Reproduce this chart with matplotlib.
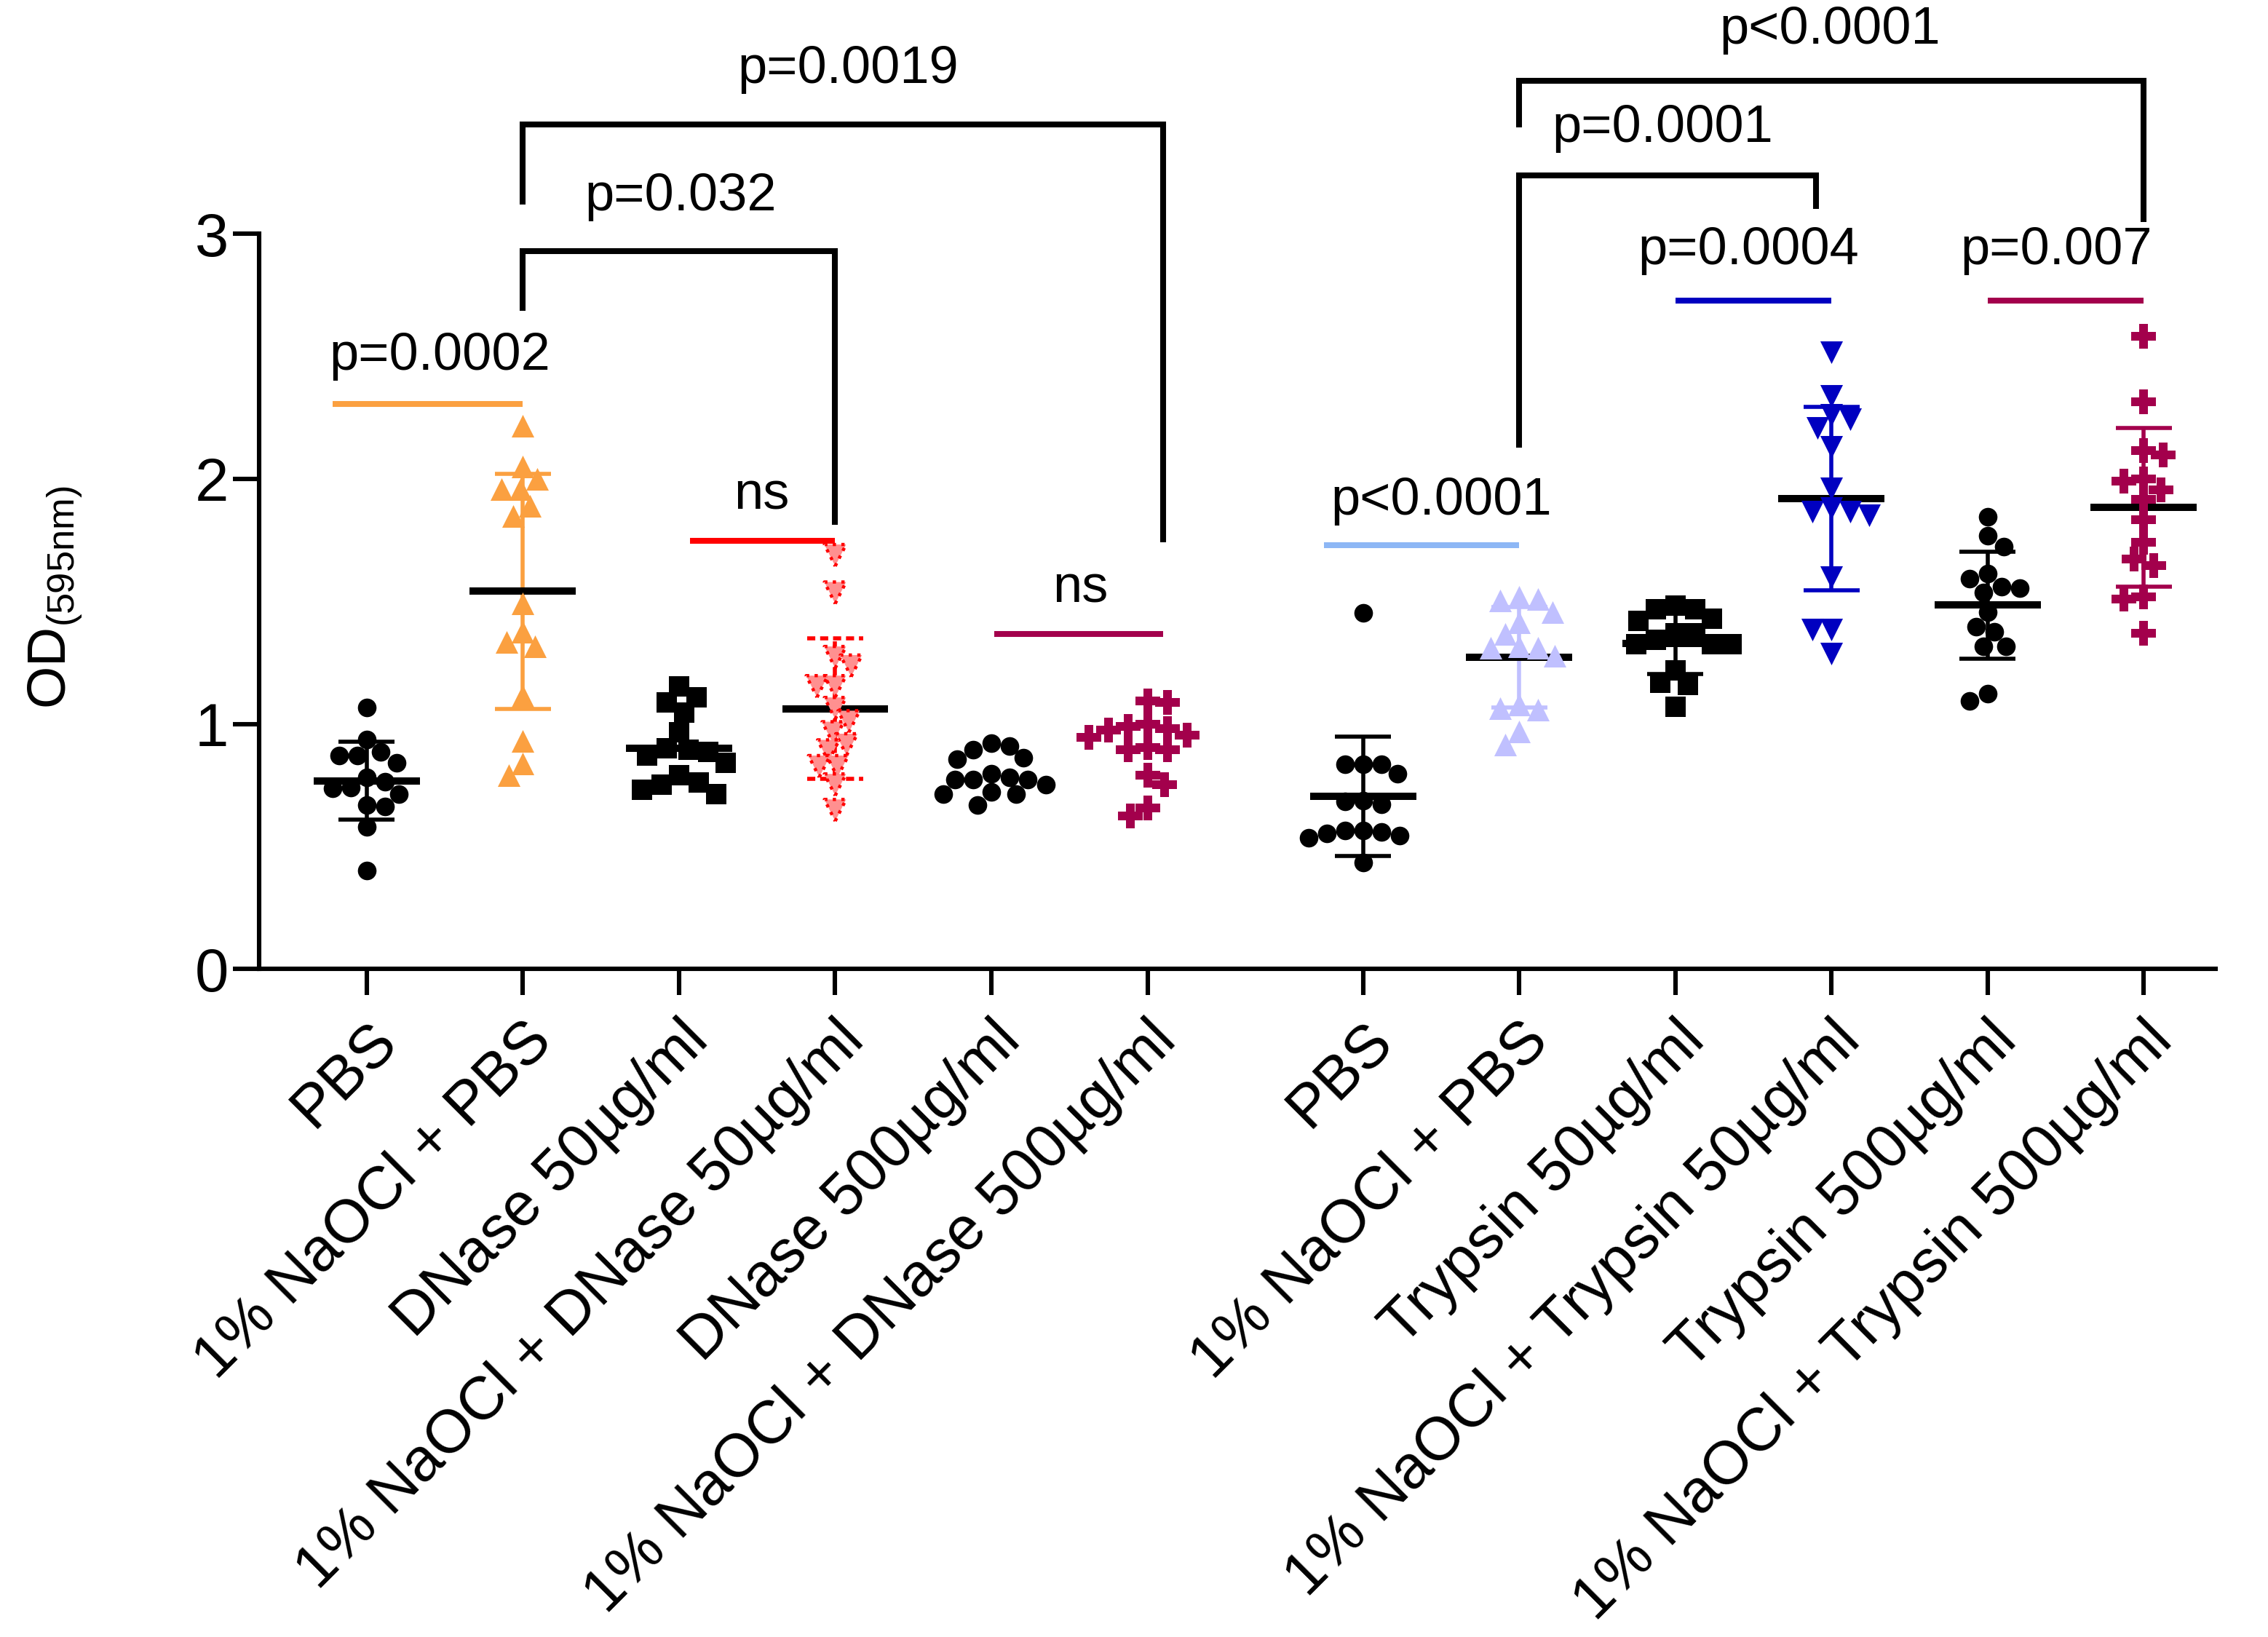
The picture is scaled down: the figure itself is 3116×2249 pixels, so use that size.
import numpy as np
import matplotlib
matplotlib.use("Agg")
import matplotlib.pyplot as plt

plt.rcParams['font.family'] = ['Liberation Sans', 'DejaVu Sans']
plt.rcParams['mathtext.fontset'] = 'custom'
plt.rcParams['mathtext.rm'] = 'Liberation Sans'

# ---------------- data ----------------
labels = ["PBS", "1% NaOCl + PBS", "DNase 50µg/ml", "1% NaOCl + DNase 50µg/ml",
          "DNase 500µg/ml", "1% NaOCl + DNase 500µg/ml",
          "PBS", "1% NaOCl + PBS", "Trypsin 50µg/ml", "1% NaOCl + Trypsin 50µg/ml",
          "Trypsin 500µg/ml", "1% NaOCl + Trypsin 500µg/ml"]

pbs_1 = [1.067, 0.936, 0.871, 0.886, 0.871, 0.841, 0.782, 0.763, 0.713, 0.737,
         0.742, 0.663, 0.668, 0.579, 0.401]
naocl_pbs_1 = [2.217, 2.051, 2.001, 1.959, 1.959, 1.890, 1.848, 1.492, 1.376, 1.333,
               1.317, 1.116, 0.930, 0.840, 0.792]
dnase50 = [1.153, 1.089, 1.109, 1.045, 0.965, 0.886, 0.896, 0.901, 0.841, 0.871,
           0.792, 0.715, 0.762, 0.731, 0.752]
naocl_dnase50 = [1.688, 1.535, 1.272, 1.237, 1.153, 1.153, 1.064, 1.010, 0.965, 0.916,
                 0.891, 0.827, 0.827, 0.752, 0.648]
dnase500 = [0.896, 0.911, 0.921, 0.861, 0.856, 0.797, 0.782, 0.772, 0.772, 0.772,
            0.752, 0.723, 0.713, 0.713, 0.668]
naocl_dnase500 = [1.094, 1.087, 0.990, 0.980, 0.975, 1.000, 0.945, 0.955, 0.896, 0.896,
                  0.905, 0.792, 0.752, 0.658, 0.624]
pbs_2 = [1.453, 0.837, 0.837, 0.797, 0.837, 0.688, 0.673, 0.683, 0.564, 0.559,
         0.544, 0.554, 0.535, 0.564, 0.436]
naocl_pbs_2 = [1.510, 1.505, 1.520, 1.455, 1.416, 1.366, 1.317, 1.312, 1.312, 1.277,
               1.064, 1.079, 1.059, 0.970, 0.916]
trypsin50 = [1.483, 1.421, 1.467, 1.467, 1.428, 1.371, 1.371, 1.327, 1.327, 1.342,
             1.327, 1.218, 1.158, 1.168, 1.069]
naocl_trypsin50 = [2.515, 2.337, 2.242, 2.262, 2.208, 2.129, 1.960, 1.881, 1.851, 1.866,
                   1.866, 1.599, 1.386, 1.386, 1.287]
trypsin500 = [1.846, 1.767, 1.723, 1.614, 1.594, 1.554, 1.535, 1.559, 1.455, 1.396,
              1.376, 1.317, 1.317, 1.124, 1.094]
naocl_trypsin500 = [2.582, 2.315, 2.114, 2.097, 1.992, 2.000, 1.955, 1.916, 1.832, 1.742,
                    1.673, 1.645, 1.520, 1.510, 1.371]

groups = [pbs_1, naocl_pbs_1, dnase50, naocl_dnase50, dnase500, naocl_dnase500,
          pbs_2, naocl_pbs_2, trypsin50, naocl_trypsin50, trypsin500, naocl_trypsin500]

# significance annotations: (text, x, y)
p_texts = [("p=0.0002", 1.47, 2.50), ("ns", 3.53, 1.93), ("ns", 5.57, 1.55),
           ("p<0.0001", 7.88, 1.91), ("p=0.0004", 9.85, 2.93), ("p=0.007", 11.82, 2.93),
           ("p=0.032", 3.01, 3.15), ("p=0.0019", 4.08, 3.67), ("p=0.0001", 9.30, 3.43),
           ("p<0.0001", 10.37, 3.83)]

# ---------------- style ----------------
ORANGE = '#FBA040'
RED = '#FF0000'
MAROON = '#A3004C'
LAV = '#C0C0FF'
BLUE = '#0000C0'
LIGHTBLUE = '#8DB7F5'

colors = ['black', ORANGE, 'black', RED, 'black', MAROON,
          'black', LAV, 'black', BLUE, 'black', MAROON]
markers = ['o', '^', 's', 'v', 'o', 'P', 'o', '^', 's', 'v', 'o', 'P']
msizes = [85, 125, 95, 115, 85, 150, 85, 125, 95, 125, 85, 150]
diam = [25, 26, 27, 25, 25, 27, 25, 26, 27, 26, 25, 27]
show_mean = [True, True, True, True, False, False, True, True, True, True, True, True]
show_sd = [True, True, False, True, False, False, True, True, True, True, True, True]

positions = [1, 2, 3, 4, 5, 6, 7.38, 8.38, 9.38, 10.38, 11.38, 12.38]

W, H = 3116, 2249
fig = plt.figure(figsize=(W / 200, H / 200), dpi=200)
ax = fig.add_axes([0.1142, 0.408, 0.8627, 0.584])
ax.set_xlim(0.31, 12.84)
ax.set_ylim(0, 3.9)

# pixel scales for swarm layout
xpx = 0.8627 * W / (12.84 - 0.31)
ypx = 0.584 * H / 3.9


def swarm(vals, center, D=25.0):
    vals = np.asarray(vals, float)
    step = D / 8.0
    cand = [0.0]
    for k in range(1, 80):
        cand += [k * step, -k * step]
    placed = []
    xs = np.zeros(len(vals))
    flip = 1
    for i in np.argsort(-vals):
        y = vals[i] * ypx
        for x in cand:
            x = x * flip
            if all((x - px) ** 2 + (y - py) ** 2 >= (D * 0.97) ** 2 for px, py in placed):
                break
        if x != 0:
            flip = -flip
        placed.append((x, y))
        xs[i] = x
    return center + xs / xpx


for i, vals in enumerate(groups):
    vals = np.asarray(vals)
    c = colors[i]
    pos = positions[i]
    m = vals.mean()
    sd = vals.std(ddof=1)
    ls = '-'
    if i == 3:
        ls = (0, (2, 1.2))
    if show_sd[i]:
        ax.plot([pos, pos], [m - sd, m + sd], color=c, lw=2.0, ls=ls, zorder=2,
                solid_capstyle='butt')
        for yy in (m - sd, m + sd):
            ax.plot([pos - 0.18, pos + 0.18], [yy, yy], color=c, lw=2.0, ls=ls,
                    zorder=2, solid_capstyle='butt')
    if show_mean[i]:
        ax.plot([pos - 0.34, pos + 0.34], [m, m], color='black', lw=3.6, zorder=2,
                solid_capstyle='butt')
    xs = swarm(vals, pos, diam[i])
    if i == 3:
        ax.scatter(xs, vals, s=msizes[i], marker='v', facecolors='#FF9090',
                   edgecolors=RED, linewidths=1.6, linestyles=':', zorder=3)
    else:
        ax.scatter(xs, vals, s=msizes[i], marker=markers[i], color=c,
                   linewidths=0, zorder=3)

# ---------------- significance lines ----------------
LW = 2.9
def line(xs, ys, color='black'):
    ax.plot(xs, ys, color=color, lw=LW, clip_on=False, zorder=4,
            solid_capstyle='butt', solid_joinstyle='miter')

line([0.78, positions[1]], [2.305, 2.305], ORANGE)
line([positions[2] + 0.07, positions[3]], [1.747, 1.747], RED)
line([positions[4] + 0.02, positions[5] + 0.1], [1.367, 1.367], MAROON)
line([positions[6] - 0.25, positions[7]], [1.729, 1.729], LIGHTBLUE)
line([positions[8], positions[9]], [2.727, 2.727], BLUE)
line([positions[10], positions[11]], [2.727, 2.727], MAROON)

line([positions[1], positions[1], positions[3], positions[3]], [2.686, 2.93, 2.93, 1.812])
line([positions[1], positions[1], positions[5] + 0.1, positions[5] + 0.1],
     [3.12, 3.446, 3.446, 1.741])
line([positions[7], positions[7], positions[9] - 0.1, positions[9] - 0.1],
     [2.127, 3.238, 3.238, 3.10])
line([positions[7], positions[7], positions[11], positions[11]],
     [3.434, 3.624, 3.624, 3.048])

for t, x, y in p_texts:
    ax.text(x, y, t, ha='center', va='center', fontsize=26, clip_on=False, zorder=5)

# ---------------- axes ----------------
for s in ('top', 'right'):
    ax.spines[s].set_visible(False)
ax.spines['left'].set_linewidth(2.2)
ax.spines['bottom'].set_linewidth(2.2)
ax.spines['left'].set_bounds(0, 3)

ax.set_yticks([0, 1, 2, 3])
ax.set_yticklabels(['0', '1', '2', '3'], fontsize=30)
ax.set_xticks(positions)
ax.set_xticklabels(labels, fontsize=30, rotation=45, ha='right',
                   rotation_mode='anchor')
ax.tick_params(axis='both', direction='out', length=13, width=2.2)
ax.tick_params(axis='y', pad=2)
ax.tick_params(axis='x', pad=8)

fig.text(0.0244, 0.635, r'OD$_{\mathregular{(595nm)}}$', rotation=90,
         ha='center', va='center', fontsize=27)

fig.savefig('out.png', dpi=200)
